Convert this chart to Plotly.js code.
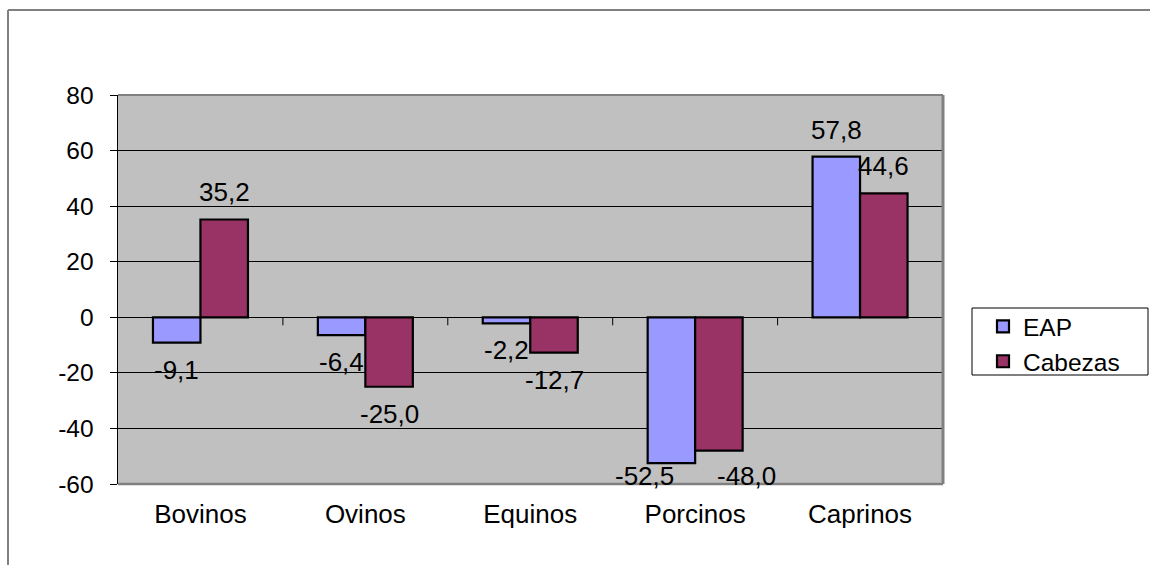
<!DOCTYPE html>
<html>
<head>
<meta charset="utf-8">
<script src="https://cdn.plot.ly/plotly-3.0.1.min.js"></script>
<style>
html,body{margin:0;padding:0;background:#fff;}
#chart{width:1150px;height:565px;}
</style>
</head>
<body>
<div id="chart"></div>
<script>
// ---- data ----
var categories = ['Bovinos', 'Ovinos', 'Equinos', 'Porcinos', 'Caprinos'];
var eapValues = [-9.1, -6.4, -2.2, -52.5, 57.8];
var cabezasValues = [35.2, -25.0, -12.7, -48.0, 44.6];
var seriesNames = ['EAP', 'Cabezas'];
var yTickVals = [-60, -40, -20, 0, 20, 40, 60, 80];
var yTickText = ['-60', '-40', '-20', '0', '20', '40', '60', '80'];

// ---- layout constants ----
var W = 1150, H = 565;
var ML = 118, MR = 207, MT = 95, MB = 81;
var PW = W - ML - MR, PH = H - MT - MB;
var yMin = -60, yMax = 80;
var ppu = PH / (yMax - yMin);
var bargap = 0.424;
var FONT = '"Liberation Sans", Arial, sans-serif';

function fmt(v) { return v.toFixed(1).replace('.', ','); }
function px2paperX(px) { return (px - ML) / PW; }
function px2paperY(py) { return (H - MB - py) / PH; }

var traces = [
  {type: 'bar', name: seriesNames[0], x: categories, y: eapValues,
   marker: {color: '#9999FF', line: {color: '#000000', width: 2.2}}, hoverinfo: 'skip'},
  {type: 'bar', name: seriesNames[1], x: categories, y: cabezasValues,
   marker: {color: '#993366', line: {color: '#000000', width: 2.2}}, hoverinfo: 'skip'}
];

// data labels (Excel "outside end", clamped inside plot area, pushed apart when clamped)
var annotations = [];
var half = (1 - bargap) / 4;
[eapValues, cabezasValues].forEach(function (vals, s) {
  vals.forEach(function (v, i) {
    var off = 27 / ppu;
    var yy = v >= 0 ? v + off : v - off;
    var floor = yMin + 8 / ppu;
    var clamped = yy < floor;
    if (clamped) yy = floor;
    annotations.push({
      x: i + (s === 0 ? -half : half), y: yy, xref: 'x', yref: 'y',
      xshift: clamped ? (s === 0 ? -27 : 28) : 0,
      text: fmt(v), showarrow: false, xanchor: 'center', yanchor: 'middle',
      font: {family: FONT, size: 26, color: '#000'}
    });
  });
});

var shapes = [];
// x-axis ticks at category boundaries on the zero line
for (var k = 0; k < categories.length; k++) {
  shapes.push({type: 'line', xref: 'x', yref: 'y', ysizemode: 'pixel', yanchor: 0,
    x0: k + 0.5, x1: k + 0.5, y0: 0, y1: -8, line: {color: '#000', width: 1}});
}
// plot area border (top, right, bottom) gray
shapes.push({type: 'line', xref: 'paper', yref: 'paper', x0: 0, x1: 1, y0: 1, y1: 1, line: {color: '#808080', width: 2}, layer: 'above'});
shapes.push({type: 'line', xref: 'paper', yref: 'paper', x0: 1, x1: 1, y0: 0, y1: 1, line: {color: '#808080', width: 3}, layer: 'above'});
shapes.push({type: 'line', xref: 'paper', yref: 'paper', x0: 0, x1: 1, y0: 0, y1: 0, line: {color: '#808080', width: 2.5}, layer: 'above'});
// outer chart border (left and top)
shapes.push({type: 'line', xref: 'paper', yref: 'paper', x0: px2paperX(8), x1: px2paperX(8), y0: px2paperY(10), y1: px2paperY(H + 5), line: {color: '#808080', width: 2}});
shapes.push({type: 'line', xref: 'paper', yref: 'paper', x0: px2paperX(8), x1: px2paperX(W + 5), y0: px2paperY(10), y1: px2paperY(10), line: {color: '#808080', width: 2}});
// legend box
shapes.push({type: 'rect', xref: 'paper', yref: 'paper', x0: px2paperX(972), x1: px2paperX(1148), y0: px2paperY(375), y1: px2paperY(308), line: {color: '#000', width: 1}, fillcolor: 'rgba(0,0,0,0)'});

var layout = {
  width: W, height: H,
  margin: {l: ML, r: MR, t: MT, b: MB, pad: 0},
  paper_bgcolor: '#FFFFFF', plot_bgcolor: '#C0C0C0',
  font: {family: FONT, size: 24, color: '#000'},
  barmode: 'group', bargap: bargap, bargroupgap: 0,
  showlegend: true,
  legend: {x: px2paperX(983), y: px2paperY(304), xanchor: 'left', yanchor: 'top',
    bgcolor: 'rgba(0,0,0,0)', borderwidth: 0, font: {family: FONT, size: 24.5, color: '#000'},
    traceorder: 'normal'},
  xaxis: {type: 'category', showgrid: false, showline: false, zeroline: false, ticks: '',
    tickfont: {family: FONT, size: 26, color: '#000'}, ticklabelstandoff: 12, fixedrange: true},
  yaxis: {range: [yMin, yMax], tickvals: yTickVals, ticktext: yTickText,
    showgrid: true, gridcolor: '#000', gridwidth: 1,
    zeroline: true, zerolinecolor: '#000', zerolinewidth: 1,
    showline: true, linecolor: '#000', linewidth: 1.5,
    ticks: 'outside', ticklen: 7, tickcolor: '#000', tickwidth: 1,
    ticklabelstandoff: 11,
    tickfont: {family: FONT, size: 24.5, color: '#000'}, fixedrange: true},
  annotations: annotations,
  shapes: shapes
};

Plotly.newPlot('chart', traces, layout, {displayModeBar: false, staticPlot: true});
</script>
</body>
</html>
